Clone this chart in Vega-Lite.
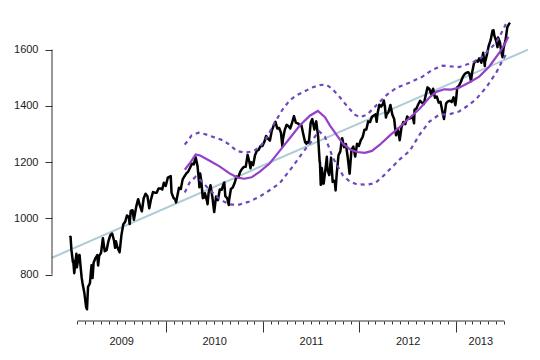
{
  "$schema": "https://vega.github.io/schema/vega-lite/v6.json",
  "width": 476,
  "height": 311,
  "autosize": {"type": "none"},
  "padding": {"left": 52, "top": 10, "right": 12, "bottom": 39},
  "background": "white",
  "config": {"view": {"stroke": null}, "axis": {"grid": false, "labelFont": "Liberation Sans", "labelFontSize": 11, "labelColor": "#222", "tickColor": "#333", "title": null}},
  "datasets": {
    "reg": [{"date": "2008-10-28", "value": 860}, {"date": "2013-09-28", "value": 1600}],
    "yline": [{"date": "2008-10-28", "value": 800}],
    "xline": [{"date": "2009-02-01", "date2": "2013-07-01", "value": 635}],
    "trend": [
      {"date": "2010-03-13", "value": 1173}, {"date": "2010-04-04", "value": 1200}, {"date": "2010-04-23", "value": 1227},
      {"date": "2010-05-08", "value": 1224}, {"date": "2010-06-15", "value": 1205}, {"date": "2010-07-22", "value": 1185},
      {"date": "2010-08-29", "value": 1160}, {"date": "2010-09-28", "value": 1145}, {"date": "2010-10-24", "value": 1141},
      {"date": "2010-11-20", "value": 1146}, {"date": "2010-12-20", "value": 1165}, {"date": "2011-01-27", "value": 1195},
      {"date": "2011-03-06", "value": 1240}, {"date": "2011-04-13", "value": 1285}, {"date": "2011-05-21", "value": 1330},
      {"date": "2011-06-28", "value": 1365}, {"date": "2011-07-28", "value": 1382}, {"date": "2011-08-24", "value": 1360},
      {"date": "2011-09-12", "value": 1330}, {"date": "2011-10-08", "value": 1295}, {"date": "2011-10-31", "value": 1265},
      {"date": "2011-11-27", "value": 1245}, {"date": "2011-12-23", "value": 1236}, {"date": "2012-01-22", "value": 1233},
      {"date": "2012-02-17", "value": 1240}, {"date": "2012-03-18", "value": 1262}, {"date": "2012-04-25", "value": 1295},
      {"date": "2012-06-01", "value": 1325}, {"date": "2012-07-09", "value": 1358}, {"date": "2012-08-15", "value": 1390},
      {"date": "2012-09-21", "value": 1430}, {"date": "2012-10-17", "value": 1450}, {"date": "2012-11-16", "value": 1459},
      {"date": "2012-12-12", "value": 1458}, {"date": "2013-01-11", "value": 1465}, {"date": "2013-02-18", "value": 1483},
      {"date": "2013-03-28", "value": 1504}, {"date": "2013-05-05", "value": 1540}, {"date": "2013-06-12", "value": 1589},
      {"date": "2013-07-01", "value": 1618}, {"date": "2013-07-16", "value": 1646}
    ],
    "upper": [
      {"date": "2010-03-13", "value": 1262}, {"date": "2010-04-08", "value": 1295}, {"date": "2010-05-04", "value": 1305},
      {"date": "2010-06-03", "value": 1298}, {"date": "2010-07-03", "value": 1288}, {"date": "2010-08-03", "value": 1278},
      {"date": "2010-08-29", "value": 1262}, {"date": "2010-09-24", "value": 1240}, {"date": "2010-10-24", "value": 1234},
      {"date": "2010-11-23", "value": 1238}, {"date": "2010-12-20", "value": 1252}, {"date": "2011-01-15", "value": 1285},
      {"date": "2011-02-15", "value": 1340}, {"date": "2011-03-17", "value": 1387}, {"date": "2011-04-13", "value": 1420},
      {"date": "2011-05-09", "value": 1438}, {"date": "2011-06-09", "value": 1452}, {"date": "2011-07-05", "value": 1465},
      {"date": "2011-08-05", "value": 1474}, {"date": "2011-08-28", "value": 1476}, {"date": "2011-09-19", "value": 1462},
      {"date": "2011-10-20", "value": 1430}, {"date": "2011-11-19", "value": 1395}, {"date": "2011-12-16", "value": 1368},
      {"date": "2012-01-04", "value": 1360}, {"date": "2012-01-30", "value": 1369}, {"date": "2012-03-07", "value": 1404},
      {"date": "2012-04-14", "value": 1440}, {"date": "2012-05-21", "value": 1465}, {"date": "2012-07-09", "value": 1483},
      {"date": "2012-08-26", "value": 1504}, {"date": "2012-10-03", "value": 1529}, {"date": "2012-11-09", "value": 1543},
      {"date": "2012-12-16", "value": 1540}, {"date": "2013-01-11", "value": 1538}, {"date": "2013-02-18", "value": 1550},
      {"date": "2013-03-28", "value": 1565}, {"date": "2013-04-23", "value": 1589}, {"date": "2013-05-31", "value": 1625},
      {"date": "2013-06-23", "value": 1665}, {"date": "2013-07-12", "value": 1702}
    ],
    "lower": [
      {"date": "2010-03-13", "value": 1092}, {"date": "2010-03-31", "value": 1127}, {"date": "2010-04-23", "value": 1148},
      {"date": "2010-05-12", "value": 1135}, {"date": "2010-06-03", "value": 1113}, {"date": "2010-07-11", "value": 1077},
      {"date": "2010-08-10", "value": 1058}, {"date": "2010-09-05", "value": 1049}, {"date": "2010-10-05", "value": 1049},
      {"date": "2010-11-12", "value": 1060}, {"date": "2010-12-20", "value": 1077}, {"date": "2011-01-27", "value": 1100},
      {"date": "2011-03-06", "value": 1125}, {"date": "2011-04-24", "value": 1184}, {"date": "2011-06-01", "value": 1234},
      {"date": "2011-07-09", "value": 1280}, {"date": "2011-08-01", "value": 1310}, {"date": "2011-08-24", "value": 1290},
      {"date": "2011-09-23", "value": 1215}, {"date": "2011-10-31", "value": 1152}, {"date": "2011-11-27", "value": 1130},
      {"date": "2011-12-23", "value": 1121}, {"date": "2012-01-30", "value": 1120}, {"date": "2012-02-29", "value": 1125},
      {"date": "2012-03-30", "value": 1150}, {"date": "2012-05-06", "value": 1185}, {"date": "2012-06-01", "value": 1210},
      {"date": "2012-07-09", "value": 1240}, {"date": "2012-08-15", "value": 1298}, {"date": "2012-09-21", "value": 1344},
      {"date": "2012-10-28", "value": 1369}, {"date": "2012-12-04", "value": 1370}, {"date": "2013-01-11", "value": 1380},
      {"date": "2013-02-18", "value": 1404}, {"date": "2013-03-17", "value": 1425}, {"date": "2013-04-23", "value": 1465},
      {"date": "2013-05-31", "value": 1518}, {"date": "2013-06-23", "value": 1560}, {"date": "2013-07-08", "value": 1585}
    ],
    "price": [
      {"date": "2009-01-02", "value": 931.8}, {"date": "2009-01-06", "value": 934.7}, {"date": "2009-01-09", "value": 890.35},
      {"date": "2009-01-15", "value": 843.74}, {"date": "2009-01-16", "value": 850.12}, {"date": "2009-01-20", "value": 805.22},
      {"date": "2009-01-23", "value": 831.95}, {"date": "2009-01-28", "value": 874.09}, {"date": "2009-01-30", "value": 825.88},
      {"date": "2009-02-06", "value": 868.6}, {"date": "2009-02-09", "value": 869.89}, {"date": "2009-02-13", "value": 826.84},
      {"date": "2009-02-17", "value": 789.17}, {"date": "2009-02-20", "value": 770.05}, {"date": "2009-02-27", "value": 735.09},
      {"date": "2009-03-06", "value": 683.38}, {"date": "2009-03-09", "value": 676.53}, {"date": "2009-03-13", "value": 756.55},
      {"date": "2009-03-20", "value": 768.54}, {"date": "2009-03-26", "value": 832.86}, {"date": "2009-03-30", "value": 787.53},
      {"date": "2009-04-03", "value": 842.5}, {"date": "2009-04-09", "value": 856.56}, {"date": "2009-04-17", "value": 869.6},
      {"date": "2009-04-20", "value": 832.39}, {"date": "2009-04-24", "value": 866.23}, {"date": "2009-05-01", "value": 877.52},
      {"date": "2009-05-08", "value": 929.23}, {"date": "2009-05-15", "value": 882.88}, {"date": "2009-05-22", "value": 887.0},
      {"date": "2009-05-29", "value": 919.14}, {"date": "2009-06-05", "value": 940.09}, {"date": "2009-06-12", "value": 946.21},
      {"date": "2009-06-19", "value": 921.23}, {"date": "2009-06-23", "value": 895.1}, {"date": "2009-06-26", "value": 918.9},
      {"date": "2009-07-02", "value": 896.42}, {"date": "2009-07-10", "value": 879.13}, {"date": "2009-07-17", "value": 940.38},
      {"date": "2009-07-24", "value": 979.26}, {"date": "2009-07-31", "value": 987.48}, {"date": "2009-08-07", "value": 1010.48},
      {"date": "2009-08-14", "value": 1004.09}, {"date": "2009-08-17", "value": 979.73}, {"date": "2009-08-21", "value": 1026.13},
      {"date": "2009-08-28", "value": 1028.93}, {"date": "2009-09-02", "value": 994.75}, {"date": "2009-09-11", "value": 1042.73},
      {"date": "2009-09-18", "value": 1068.3}, {"date": "2009-09-25", "value": 1044.38}, {"date": "2009-10-02", "value": 1025.21},
      {"date": "2009-10-09", "value": 1071.49}, {"date": "2009-10-16", "value": 1087.68}, {"date": "2009-10-23", "value": 1079.6},
      {"date": "2009-10-30", "value": 1036.19}, {"date": "2009-11-06", "value": 1069.3}, {"date": "2009-11-13", "value": 1093.48},
      {"date": "2009-11-20", "value": 1091.38}, {"date": "2009-11-27", "value": 1091.49}, {"date": "2009-12-04", "value": 1105.98},
      {"date": "2009-12-11", "value": 1106.41}, {"date": "2009-12-18", "value": 1102.47}, {"date": "2009-12-24", "value": 1126.48},
      {"date": "2009-12-31", "value": 1115.1},
      {"date": "2010-01-08", "value": 1144.98}, {"date": "2010-01-19", "value": 1150.23}, {"date": "2010-01-22", "value": 1091.76},
      {"date": "2010-01-29", "value": 1073.87}, {"date": "2010-02-05", "value": 1066.19}, {"date": "2010-02-08", "value": 1056.74},
      {"date": "2010-02-12", "value": 1075.51}, {"date": "2010-02-19", "value": 1109.17}, {"date": "2010-02-26", "value": 1104.49},
      {"date": "2010-03-05", "value": 1138.7}, {"date": "2010-03-12", "value": 1149.99}, {"date": "2010-03-19", "value": 1159.9},
      {"date": "2010-03-26", "value": 1166.59}, {"date": "2010-04-01", "value": 1178.1}, {"date": "2010-04-09", "value": 1194.37},
      {"date": "2010-04-16", "value": 1192.13}, {"date": "2010-04-23", "value": 1217.28}, {"date": "2010-04-30", "value": 1186.69},
      {"date": "2010-05-06", "value": 1128.15}, {"date": "2010-05-07", "value": 1110.88}, {"date": "2010-05-10", "value": 1159.73},
      {"date": "2010-05-14", "value": 1135.68}, {"date": "2010-05-20", "value": 1071.59}, {"date": "2010-05-21", "value": 1087.69},
      {"date": "2010-05-25", "value": 1074.03}, {"date": "2010-05-28", "value": 1089.41}, {"date": "2010-06-04", "value": 1064.88},
      {"date": "2010-06-07", "value": 1050.47}, {"date": "2010-06-11", "value": 1091.6}, {"date": "2010-06-18", "value": 1117.51},
      {"date": "2010-06-25", "value": 1076.76}, {"date": "2010-07-02", "value": 1022.58}, {"date": "2010-07-09", "value": 1077.96},
      {"date": "2010-07-16", "value": 1064.88}, {"date": "2010-07-23", "value": 1102.66}, {"date": "2010-07-30", "value": 1101.6},
      {"date": "2010-08-06", "value": 1121.64}, {"date": "2010-08-09", "value": 1127.79}, {"date": "2010-08-13", "value": 1079.25},
      {"date": "2010-08-20", "value": 1071.69}, {"date": "2010-08-26", "value": 1047.22}, {"date": "2010-08-27", "value": 1064.59},
      {"date": "2010-09-03", "value": 1104.51}, {"date": "2010-09-10", "value": 1109.55}, {"date": "2010-09-17", "value": 1125.59},
      {"date": "2010-09-24", "value": 1148.67}, {"date": "2010-10-01", "value": 1146.24}, {"date": "2010-10-08", "value": 1165.15},
      {"date": "2010-10-15", "value": 1176.19}, {"date": "2010-10-22", "value": 1183.08}, {"date": "2010-10-29", "value": 1183.26},
      {"date": "2010-11-05", "value": 1225.85}, {"date": "2010-11-12", "value": 1199.21}, {"date": "2010-11-16", "value": 1178.34},
      {"date": "2010-11-19", "value": 1199.73}, {"date": "2010-11-26", "value": 1189.4}, {"date": "2010-12-03", "value": 1224.71},
      {"date": "2010-12-10", "value": 1240.4}, {"date": "2010-12-17", "value": 1243.91}, {"date": "2010-12-23", "value": 1256.77},
      {"date": "2010-12-31", "value": 1257.64},
      {"date": "2011-01-07", "value": 1271.5}, {"date": "2011-01-14", "value": 1293.24}, {"date": "2011-01-21", "value": 1283.35},
      {"date": "2011-01-28", "value": 1276.34}, {"date": "2011-02-04", "value": 1310.87}, {"date": "2011-02-11", "value": 1329.15},
      {"date": "2011-02-18", "value": 1343.01}, {"date": "2011-02-25", "value": 1319.88}, {"date": "2011-03-04", "value": 1321.15},
      {"date": "2011-03-11", "value": 1304.28}, {"date": "2011-03-16", "value": 1256.88}, {"date": "2011-03-18", "value": 1279.2},
      {"date": "2011-03-25", "value": 1313.8}, {"date": "2011-04-01", "value": 1332.41}, {"date": "2011-04-08", "value": 1328.17},
      {"date": "2011-04-15", "value": 1319.68}, {"date": "2011-04-21", "value": 1337.38}, {"date": "2011-04-29", "value": 1363.61},
      {"date": "2011-05-06", "value": 1340.2}, {"date": "2011-05-13", "value": 1337.77}, {"date": "2011-05-20", "value": 1333.27},
      {"date": "2011-05-27", "value": 1331.1}, {"date": "2011-06-03", "value": 1300.16}, {"date": "2011-06-10", "value": 1270.98},
      {"date": "2011-06-15", "value": 1265.42}, {"date": "2011-06-17", "value": 1271.5}, {"date": "2011-06-24", "value": 1268.45},
      {"date": "2011-07-01", "value": 1339.67}, {"date": "2011-07-07", "value": 1353.22}, {"date": "2011-07-15", "value": 1316.14},
      {"date": "2011-07-22", "value": 1345.02}, {"date": "2011-07-29", "value": 1292.28}, {"date": "2011-08-04", "value": 1200.07},
      {"date": "2011-08-05", "value": 1199.38}, {"date": "2011-08-08", "value": 1119.46}, {"date": "2011-08-09", "value": 1172.53},
      {"date": "2011-08-10", "value": 1120.76}, {"date": "2011-08-12", "value": 1178.81}, {"date": "2011-08-19", "value": 1123.53},
      {"date": "2011-08-26", "value": 1176.8}, {"date": "2011-08-31", "value": 1218.89}, {"date": "2011-09-02", "value": 1173.97},
      {"date": "2011-09-09", "value": 1154.23}, {"date": "2011-09-16", "value": 1216.01}, {"date": "2011-09-22", "value": 1129.56},
      {"date": "2011-09-23", "value": 1136.43}, {"date": "2011-09-30", "value": 1131.42}, {"date": "2011-10-03", "value": 1099.23},
      {"date": "2011-10-07", "value": 1155.46}, {"date": "2011-10-14", "value": 1224.58}, {"date": "2011-10-21", "value": 1238.25},
      {"date": "2011-10-27", "value": 1284.59}, {"date": "2011-10-28", "value": 1285.09}, {"date": "2011-11-04", "value": 1253.23},
      {"date": "2011-11-11", "value": 1263.85}, {"date": "2011-11-18", "value": 1215.65}, {"date": "2011-11-25", "value": 1158.67},
      {"date": "2011-12-02", "value": 1244.28}, {"date": "2011-12-09", "value": 1255.19}, {"date": "2011-12-16", "value": 1219.66},
      {"date": "2011-12-23", "value": 1265.33}, {"date": "2011-12-30", "value": 1257.6},
      {"date": "2012-01-06", "value": 1277.81}, {"date": "2012-01-13", "value": 1289.09}, {"date": "2012-01-20", "value": 1315.38},
      {"date": "2012-01-27", "value": 1316.33}, {"date": "2012-02-03", "value": 1344.9}, {"date": "2012-02-10", "value": 1342.64},
      {"date": "2012-02-17", "value": 1361.23}, {"date": "2012-02-24", "value": 1365.74}, {"date": "2012-03-02", "value": 1369.63},
      {"date": "2012-03-06", "value": 1343.36}, {"date": "2012-03-09", "value": 1370.87}, {"date": "2012-03-16", "value": 1404.17},
      {"date": "2012-03-23", "value": 1397.11}, {"date": "2012-03-30", "value": 1408.47}, {"date": "2012-04-02", "value": 1419.04},
      {"date": "2012-04-06", "value": 1398.08}, {"date": "2012-04-10", "value": 1358.59}, {"date": "2012-04-13", "value": 1370.26},
      {"date": "2012-04-20", "value": 1378.53}, {"date": "2012-04-27", "value": 1403.36}, {"date": "2012-05-04", "value": 1369.1},
      {"date": "2012-05-11", "value": 1353.39}, {"date": "2012-05-18", "value": 1295.22}, {"date": "2012-05-25", "value": 1317.82},
      {"date": "2012-06-01", "value": 1278.04}, {"date": "2012-06-08", "value": 1325.66}, {"date": "2012-06-15", "value": 1342.84},
      {"date": "2012-06-22", "value": 1335.02}, {"date": "2012-06-29", "value": 1362.16}, {"date": "2012-07-06", "value": 1354.68},
      {"date": "2012-07-13", "value": 1356.78}, {"date": "2012-07-20", "value": 1362.66}, {"date": "2012-07-25", "value": 1337.89},
      {"date": "2012-07-27", "value": 1385.97}, {"date": "2012-08-03", "value": 1390.99}, {"date": "2012-08-10", "value": 1405.87},
      {"date": "2012-08-17", "value": 1418.16}, {"date": "2012-08-24", "value": 1411.13}, {"date": "2012-08-31", "value": 1406.58},
      {"date": "2012-09-07", "value": 1437.92}, {"date": "2012-09-14", "value": 1465.77}, {"date": "2012-09-21", "value": 1460.15},
      {"date": "2012-09-28", "value": 1440.67}, {"date": "2012-10-05", "value": 1460.93}, {"date": "2012-10-12", "value": 1428.59},
      {"date": "2012-10-19", "value": 1433.19}, {"date": "2012-10-26", "value": 1411.94}, {"date": "2012-11-02", "value": 1414.2},
      {"date": "2012-11-09", "value": 1379.85}, {"date": "2012-11-15", "value": 1353.33}, {"date": "2012-11-16", "value": 1359.88},
      {"date": "2012-11-23", "value": 1409.15}, {"date": "2012-11-30", "value": 1416.18}, {"date": "2012-12-07", "value": 1418.07},
      {"date": "2012-12-14", "value": 1413.58}, {"date": "2012-12-21", "value": 1430.15}, {"date": "2012-12-28", "value": 1402.43},
      {"date": "2012-12-31", "value": 1426.19},
      {"date": "2013-01-04", "value": 1466.47}, {"date": "2013-01-11", "value": 1472.05}, {"date": "2013-01-18", "value": 1485.98},
      {"date": "2013-01-25", "value": 1502.96}, {"date": "2013-02-01", "value": 1513.17}, {"date": "2013-02-08", "value": 1517.93},
      {"date": "2013-02-15", "value": 1519.79}, {"date": "2013-02-20", "value": 1511.95}, {"date": "2013-02-25", "value": 1487.85},
      {"date": "2013-03-01", "value": 1518.2}, {"date": "2013-03-08", "value": 1551.18}, {"date": "2013-03-15", "value": 1560.7},
      {"date": "2013-03-22", "value": 1556.89}, {"date": "2013-03-28", "value": 1569.19}, {"date": "2013-04-05", "value": 1553.28},
      {"date": "2013-04-12", "value": 1588.85}, {"date": "2013-04-18", "value": 1541.61}, {"date": "2013-04-19", "value": 1555.25},
      {"date": "2013-04-26", "value": 1582.24}, {"date": "2013-05-03", "value": 1614.42}, {"date": "2013-05-10", "value": 1633.7},
      {"date": "2013-05-17", "value": 1667.47}, {"date": "2013-05-21", "value": 1669.16}, {"date": "2013-05-24", "value": 1649.6},
      {"date": "2013-05-31", "value": 1630.74}, {"date": "2013-06-05", "value": 1608.9}, {"date": "2013-06-07", "value": 1643.38},
      {"date": "2013-06-14", "value": 1626.73}, {"date": "2013-06-20", "value": 1588.19}, {"date": "2013-06-24", "value": 1573.09},
      {"date": "2013-06-28", "value": 1606.28}, {"date": "2013-07-05", "value": 1631.89}, {"date": "2013-07-12", "value": 1680.19},
      {"date": "2013-07-19", "value": 1692.09}, {"date": "2013-07-22", "value": 1695.53}
    ]
  },
  "resolve": {"axis": {"x": "independent"}},
  "encoding": {
    "y": {"field": "value", "type": "quantitative",
      "scale": {"domain": [635, 1741], "nice": false, "zero": false},
      "axis": {"values": [800, 1000, 1200, 1400, 1600], "domain": false, "tickSize": 7, "tickWidth": 1, "labelPadding": 7, "format": "d"}}
  },
  "layer": [
    {
      "data": {"name": "reg"},
      "mark": {"type": "line", "color": "#aecbd6", "strokeWidth": 2},
      "encoding": {
        "x": {"field": "date", "type": "temporal",
          "scale": {"domain": [{"year": 2008, "month": 10, "date": 28}, {"year": 2013, "month": 9, "date": 28}], "nice": false},
          "axis": {"orient": "bottom", "domain": false, "labels": false, "tickSize": 3, "tickWidth": 1,
            "values": [
              {"year": 2009, "month": 2, "date": 1}, {"year": 2009, "month": 3, "date": 1}, {"year": 2009, "month": 4, "date": 1},
              {"year": 2009, "month": 5, "date": 1}, {"year": 2009, "month": 6, "date": 1}, {"year": 2009, "month": 7, "date": 1},
              {"year": 2009, "month": 8, "date": 1}, {"year": 2009, "month": 9, "date": 1}, {"year": 2009, "month": 10, "date": 1},
              {"year": 2009, "month": 11, "date": 1}, {"year": 2009, "month": 12, "date": 1},
              {"year": 2010, "month": 2, "date": 1}, {"year": 2010, "month": 3, "date": 1}, {"year": 2010, "month": 4, "date": 1},
              {"year": 2010, "month": 5, "date": 1}, {"year": 2010, "month": 6, "date": 1}, {"year": 2010, "month": 7, "date": 1},
              {"year": 2010, "month": 8, "date": 1}, {"year": 2010, "month": 9, "date": 1}, {"year": 2010, "month": 10, "date": 1},
              {"year": 2010, "month": 11, "date": 1}, {"year": 2010, "month": 12, "date": 1},
              {"year": 2011, "month": 2, "date": 1}, {"year": 2011, "month": 3, "date": 1}, {"year": 2011, "month": 4, "date": 1},
              {"year": 2011, "month": 5, "date": 1}, {"year": 2011, "month": 6, "date": 1}, {"year": 2011, "month": 7, "date": 1},
              {"year": 2011, "month": 8, "date": 1}, {"year": 2011, "month": 9, "date": 1}, {"year": 2011, "month": 10, "date": 1},
              {"year": 2011, "month": 11, "date": 1}, {"year": 2011, "month": 12, "date": 1},
              {"year": 2012, "month": 2, "date": 1}, {"year": 2012, "month": 3, "date": 1}, {"year": 2012, "month": 4, "date": 1},
              {"year": 2012, "month": 5, "date": 1}, {"year": 2012, "month": 6, "date": 1}, {"year": 2012, "month": 7, "date": 1},
              {"year": 2012, "month": 8, "date": 1}, {"year": 2012, "month": 9, "date": 1}, {"year": 2012, "month": 10, "date": 1},
              {"year": 2012, "month": 11, "date": 1}, {"year": 2012, "month": 12, "date": 1},
              {"year": 2013, "month": 2, "date": 1}, {"year": 2013, "month": 3, "date": 1}, {"year": 2013, "month": 4, "date": 1},
              {"year": 2013, "month": 5, "date": 1}, {"year": 2013, "month": 6, "date": 1}, {"year": 2013, "month": 7, "date": 1}
            ]}}
      }
    },
    {
      "data": {"name": "yline"},
      "mark": {"type": "rule", "color": "#333", "strokeWidth": 1},
      "encoding": {
        "x": {"field": "date", "type": "temporal", "scale": {"domain": [{"year": 2008, "month": 10, "date": 28}, {"year": 2013, "month": 9, "date": 28}], "nice": false}, "axis": null},
        "y2": {"datum": 1600}
      }
    },
    {
      "data": {"name": "xline"},
      "mark": {"type": "rule", "color": "#333", "strokeWidth": 1},
      "encoding": {
        "x": {"field": "date", "type": "temporal", "scale": {"domain": [{"year": 2008, "month": 10, "date": 28}, {"year": 2013, "month": 9, "date": 28}], "nice": false}, "axis": null},
        "x2": {"field": "date2"}
      }
    },
    {
      "data": {"name": "price"},
      "mark": {"type": "line", "color": "#000000", "strokeWidth": 2.5, "strokeJoin": "round"},
      "encoding": {
        "x": {"field": "date", "type": "temporal",
          "scale": {"domain": [{"year": 2008, "month": 10, "date": 28}, {"year": 2013, "month": 9, "date": 28}], "nice": false},
          "axis": {"orient": "bottom", "domain": false, "labels": false, "tickSize": 11, "tickWidth": 1,
            "values": [{"year": 2010, "month": 1, "date": 1}, {"year": 2011, "month": 1, "date": 1}, {"year": 2012, "month": 1, "date": 1}, {"year": 2013, "month": 1, "date": 1}]}}
      }
    },
    {
      "data": {"name": "trend"},
      "mark": {"type": "line", "color": "#9440c8", "strokeWidth": 2.2},
      "encoding": {
        "x": {"field": "date", "type": "temporal",
          "scale": {"domain": [{"year": 2008, "month": 10, "date": 28}, {"year": 2013, "month": 9, "date": 28}], "nice": false},
          "axis": {"orient": "bottom", "domain": false, "ticks": false, "tickSize": 0, "labelPadding": 14,
            "labelOverlap": false, "labelFlush": false, "labelBound": false,
            "labelExpr": "timeFormat(datum.value, '%Y')",
            "values": [{"year": 2009, "month": 7, "date": 16}, {"year": 2010, "month": 7, "date": 2}, {"year": 2011, "month": 7, "date": 2}, {"year": 2012, "month": 7, "date": 1}, {"year": 2013, "month": 4, "date": 1}]}}
      }
    },
    {
      "data": {"name": "upper"},
      "mark": {"type": "line", "color": "#7048bd", "strokeWidth": 2.2, "strokeDash": [4, 4]},
      "encoding": {
        "x": {"field": "date", "type": "temporal", "scale": {"domain": [{"year": 2008, "month": 10, "date": 28}, {"year": 2013, "month": 9, "date": 28}], "nice": false}, "axis": null}
      }
    },
    {
      "data": {"name": "lower"},
      "mark": {"type": "line", "color": "#7048bd", "strokeWidth": 2.2, "strokeDash": [4, 4]},
      "encoding": {
        "x": {"field": "date", "type": "temporal", "scale": {"domain": [{"year": 2008, "month": 10, "date": 28}, {"year": 2013, "month": 9, "date": 28}], "nice": false}, "axis": null}
      }
    }
  ]
}
